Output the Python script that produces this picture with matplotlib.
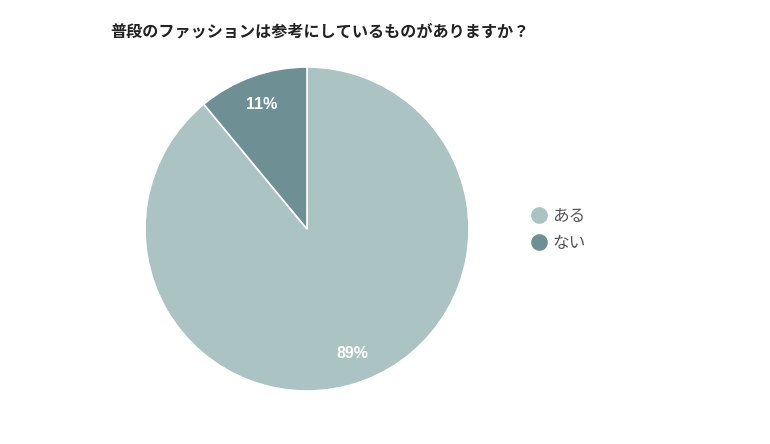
import matplotlib

matplotlib.use("Agg")
import matplotlib.pyplot as plt
from matplotlib.lines import Line2D

plt.rcParams["font.family"] = ["Noto Sans CJK JP", "DejaVu Sans"]

title = "普段のファッションは参考にしているものがありますか？"
labels = ["ある", "ない"]
values = [89, 11]
colors = ["#abc3c3", "#6e8f93"]

W, H = 770, 444
fig = plt.figure(figsize=(W / 100, H / 100), dpi=100)

# pie centre and radius in pixels
cx, cy, r = 307, 229, 162
ax = fig.add_axes([(cx - r) / W, (H - cy - r) / H, 2 * r / W, 2 * r / H])

wedges, texts, autotexts = ax.pie(
    values,
    colors=colors,
    startangle=90,
    counterclock=False,
    autopct=lambda p: f"{p:.0f}%",
    pctdistance=0.82,
    wedgeprops=dict(edgecolor="white", linewidth=1.2),
    textprops=dict(color="white", fontsize=11.5, fontweight="bold",
                   family=["Liberation Sans", "DejaVu Sans"]),
)
ax.set_xlim(-1, 1)
ax.set_ylim(-1, 1)
ax.set_aspect("equal")
ax.axis("off")

fig.text(110 / W, 1 - 31 / H, title, fontsize=11.6, fontweight="bold",
         color="#222222", ha="left", va="center")

handles = [
    Line2D([0], [0], marker="o", linestyle="", markersize=11,
           markerfacecolor=c, markeredgecolor=c)
    for c in colors
]
leg = fig.legend(
    handles, labels,
    loc="center left",
    bbox_to_anchor=(514 / W, 1 - 230 / H),
    frameon=False,
    fontsize=12,
    handletextpad=0.2,
    labelspacing=0.6,
    handlelength=1.2,
)
for t in leg.get_texts():
    t.set_color("#555555")

fig.savefig("out.png", dpi=100, facecolor="white")
